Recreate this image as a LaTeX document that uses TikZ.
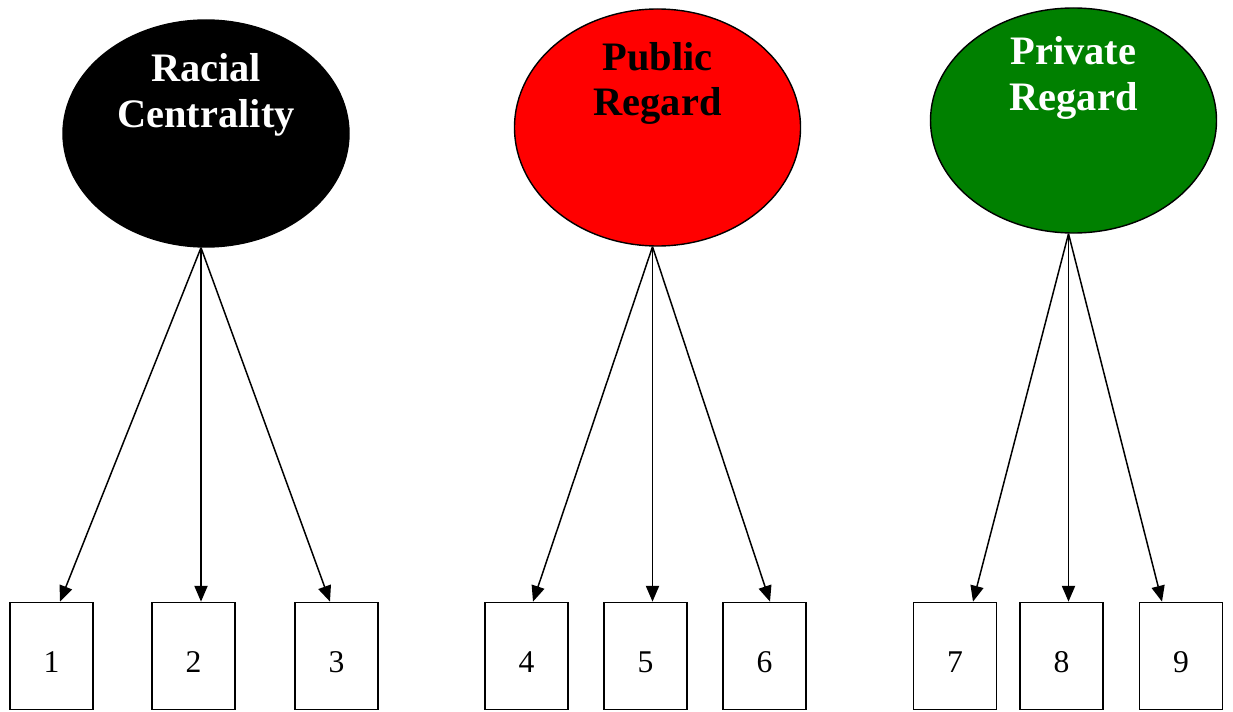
\documentclass[tikz,border=0pt]{standalone}
\usepackage{fontspec}
\setmainfont{Liberation Serif}
\usetikzlibrary{arrows.meta,shapes.geometric,positioning}
\definecolor{cCent}{HTML}{000000}
\definecolor{cPub}{HTML}{FF0000}
\definecolor{cPriv}{HTML}{008000}
\tikzset{
  lat/.style={ellipse,draw=black,line width=.8pt,minimum width=5.72cm,minimum height=4.6cm,inner sep=0pt},
  lattxt/.style={font=\bfseries\fontsize{23}{26}\selectfont,align=center,inner sep=0pt},
  ind/.style={rectangle,draw=black,line width=1pt,minimum width=1.66cm,minimum height=2.14cm,inner sep=0pt,font=\fontsize{18}{20}\selectfont},
  num/.style={font=\fontsize{18}{20}\selectfont,inner sep=0pt},
  load/.style={-{Triangle[length=9pt,width=7.5pt]},line width=.85pt},
}
\begin{document}
\begin{tikzpicture}[scale=1]
  \useasboundingbox (0,0) rectangle (24.66,14.22);
  % latent factors
  \node[lat,fill=cCent,minimum height=4.54cm] (cent) at (4.12,11.55) {};
  \node[lat,fill=cPub,minimum height=4.74cm] (pub) at (13.15,11.67) {};
  \node[lat,fill=cPriv,minimum height=4.5cm] (priv) at (21.47,11.81) {};
  \node[lattxt,white] (centtxt) at ([yshift=0.77cm]cent.center) {Racial\\Centrality};
  \node[lattxt,black] (pubtxt) at ([yshift=0.88cm]pub.center) {Public\\Regard};
  \node[lattxt,white] (privtxt) at ([yshift=0.85cm]priv.center) {Private\\Regard};
  % indicators
  \node[ind] (i1) at (1.03,1.1) {};
  \node[ind] (i2) at (3.87,1.1) {};
  \node[ind] (i3) at (6.73,1.1) {};
  \node[ind] (i4) at (10.53,1.1) {};
  \node[ind] (i5) at (12.91,1.1) {};
  \node[ind] (i6) at (15.29,1.1) {};
  \node[ind] (i7) at (19.10,1.1) {};
  \node[ind] (i8) at (21.23,1.1) {};
  \node[ind] (i9) at (23.62,1.1) {};
  \foreach \i in {1,...,9}
    \node[num] (n\i) at ([yshift=-1.3mm]i\i.center) {\i};
  % loadings
  \coordinate (cs) at ([xshift=-1mm]cent.south);
  \coordinate (ps) at ([xshift=-1mm]pub.south);
  \coordinate (vs) at ([xshift=-1mm]priv.south);
  \draw[load] (cs) -- ([xshift=1.7mm]i1.north);
  \draw[load] (cs) -- (cs |- i2.north);
  \draw[load] (cs) -- ([xshift=-1.3mm]i3.north);
  \draw[load] (ps) -- ([xshift=1.3mm]i4.north);
  \draw[load] (ps) -- (ps |- i5.north);
  \draw[load] (ps) -- ([xshift=1.1mm]i6.north);
  \draw[load] (vs) -- ([xshift=3.6mm]i7.north);
  \draw[load] (vs) -- (vs |- i8.north);
  \draw[load] (vs) -- ([xshift=-3.8mm]i9.north);
\end{tikzpicture}
\end{document}
